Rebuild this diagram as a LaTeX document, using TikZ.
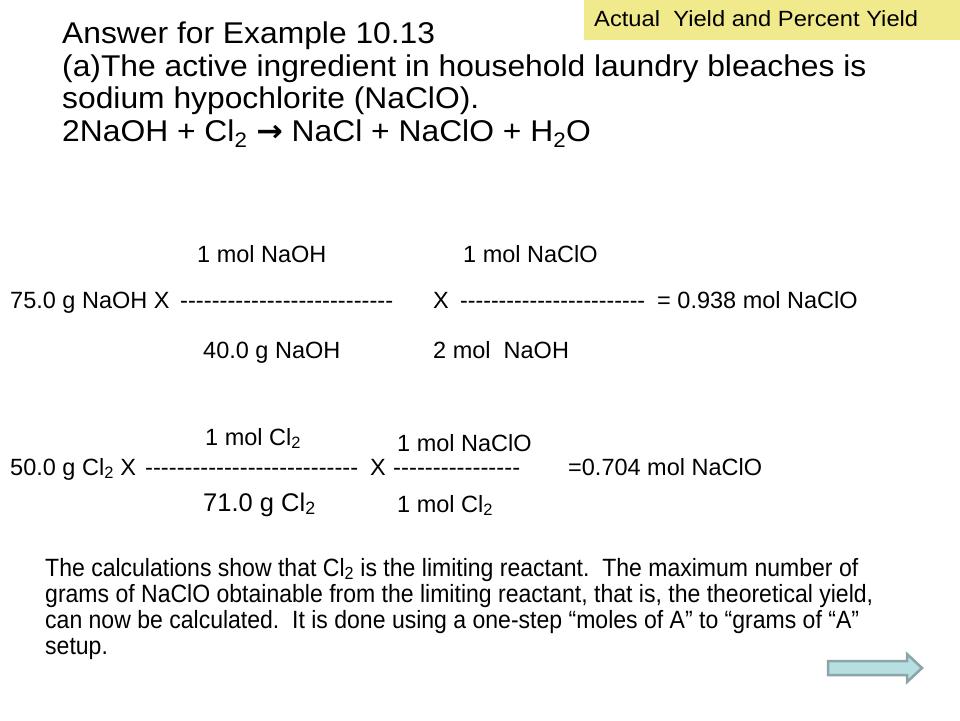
\documentclass[tikz,border=0pt]{standalone}
\usepackage{fontspec}
\setmainfont{Liberation Sans}
\newfontfamily\dejavu{DejaVu Sans}
\usepackage{graphicx}
\newcount\dcnt
\newcommand\mydashes[1]{\dcnt=#1\relax\loop -\kern0pt\advance\dcnt by -1 \ifnum\dcnt>0 \repeat}
\newcommand\dashrow[2]{\resizebox{#2pt}{\height}{\mydashes{#1}}}
\definecolor{hdrfill}{RGB}{240,234,140}
\definecolor{arrfill}{RGB}{183,222,225}
\definecolor{arrline}{RGB}{140,165,168}
\tikzset{
  txt/.style={inner sep=0pt, anchor=base west},
  ttl/.style={txt, font=\fontsize{30}{36}\selectfont},
  calc/.style={txt, font=\fontsize{23.5}{28}\selectfont},
  big/.style={txt, font=\fontsize{25.5}{30}\selectfont},
  para/.style={txt, font=\fontsize{25}{30}\selectfont},
  hdr/.style={txt, font=\fontsize{22}{26}\selectfont},
}
\newcommand\tl[1]{\scalebox{1.06}[1]{#1}}
\newcommand\pl[1]{\scalebox{0.921}[1]{#1}}
\begin{document}
\begin{tikzpicture}[x=1pt,y=-1pt]
\useasboundingbox (0,0) rectangle (960,720);
\fill[white] (0,0) rectangle (960,720);
% header
\fill[hdrfill] (584,0) rectangle (960,40);
\node[hdr] (hdr) at (594,27) {\resizebox{324pt}{\height}{Actual\ \ Yield and Percent Yield}};
% title
\node[ttl] (t1) at (62,43) {\tl{Answer for Example 10.13}};
\node[ttl] (t2) at (62,76) {\tl{(a)The active ingredient in household laundry bleaches is}};
\node[ttl] (t3) at (62,108) {\tl{sodium hypochlorite (NaClO).}};
\node[ttl] (t4) at (62,141) {\tl{2NaOH + Cl\textsubscript{2} {\dejavu\bfseries →} NaCl + NaClO + H\textsubscript{2}O}};
% first calculation
\node[calc] (a1) at (197,262) {1 mol NaOH};
\node[calc] (a2) at (463,262) {1 mol NaClO};
\node[calc] (b1) at (10,308) {75.0 g NaOH X};
\node[calc] (b2) at (180,308) {\dashrow{27}{213}};
\node[calc] (b3) at (433,308) {X};
\node[calc] (b4) at (460,308) {\dashrow{24}{185}};
\node[calc] (b5) at (657,308) {= 0.938 mol NaClO};
\node[calc] (c1) at (203,358) {40.0 g NaOH};
\node[calc] (c2) at (433,358) {2 mol\ \ NaOH};
% second calculation
\node[calc] (d1) at (205,445) {1 mol Cl\textsubscript{2}};
\node[calc] (d2) at (397,451) {1 mol NaClO};
\node[calc] (e1) at (10,475) {50.0 g Cl\textsubscript{2} X};
\node[calc] (e2) at (145,475) {\dashrow{27}{213}};
\node[calc] (e3) at (370,475) {X};
\node[calc] (e4) at (393,475) {\dashrow{16}{127}};
\node[calc] (e5) at (568,475) {=0.704 mol NaClO};
\node[big] (f1) at (203,511) {71.0 g Cl\textsubscript{2}};
\node[calc] (f2) at (397,512) {1 mol Cl\textsubscript{2}};
% paragraph
\node[para] (p1) at (45,576) {\pl{The calculations show that Cl\textsubscript{2} is the limiting reactant.\ \ The maximum number of}};
\node[para] (p2) at (45,602) {\pl{grams of NaClO obtainable from the limiting reactant, that is, the theoretical yield,}};
\node[para] (p3) at (45,628) {\pl{can now be calculated.\ \ It is done using a one-step “moles of A” to “grams of “A”}};
\node[para] (p4) at (45,654) {\pl{setup.}};
% next arrow
\draw[arrline, line width=2.5pt, fill=arrfill, line join=miter]
  (828,661) -- (907,661) -- (907,654) -- (922,668) -- (907,682) -- (907,675) -- (828,675) -- cycle;
\end{tikzpicture}
\end{document}
